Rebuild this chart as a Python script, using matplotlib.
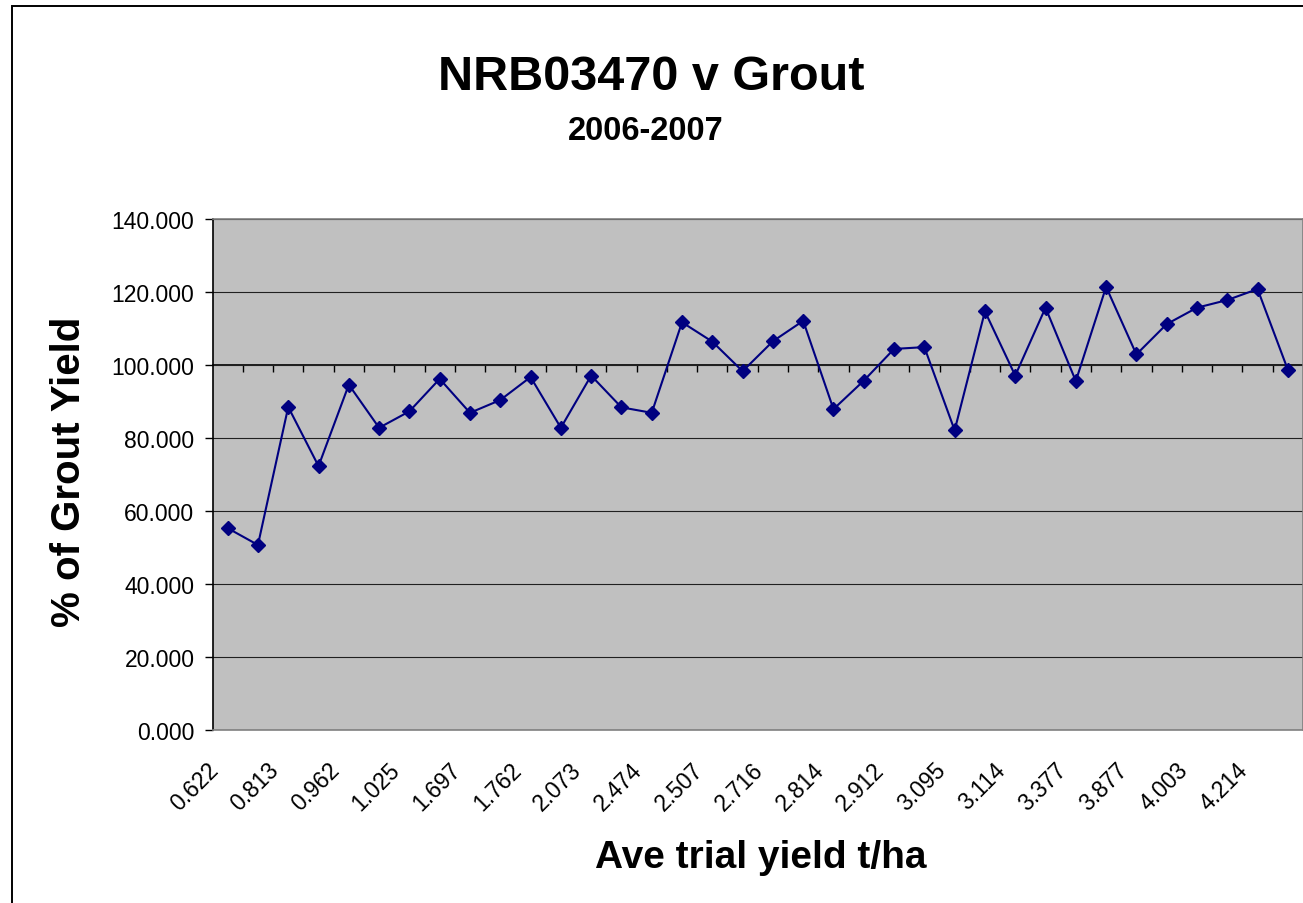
import numpy as np
import matplotlib
matplotlib.use("Agg")
import matplotlib.pyplot as plt
import matplotlib.transforms as mtransforms
from matplotlib.patches import Rectangle

plt.rcParams['font.family'] = ['Liberation Sans', 'DejaVu Sans']

# % of Grout yield for each trial (36 trials, ordered by average trial yield)
pct_grout = [55.3, 50.7, 88.5, 72.3, 94.6, 82.8, 87.3, 96.2, 86.9, 90.4,
             96.7, 82.8, 97.1, 88.4, 86.9, 111.7, 106.4, 98.3, 106.5, 112.1,
             87.9, 95.7, 104.4, 104.9, 82.1, 114.7, 97.1, 115.7, 95.6, 121.4,
             102.9, 111.2, 115.7, 117.8, 120.8, 98.7]
# category labels shown on the axis (every second trial)
yield_labels = ['0.622', '0.813', '0.962', '1.025', '1.697', '1.762', '2.073',
                '2.474', '2.507', '2.716', '2.814', '2.912', '3.095', '3.114',
                '3.377', '3.877', '4.003', '4.214']
y_ticks = [0, 20, 40, 60, 80, 100, 120, 140]

W, H = 1303, 904
fig = plt.figure(figsize=(W / 100, H / 100), dpi=100)
fig.patch.set_facecolor('white')

# chart border (only left & top are inside the image)
fig.patches.append(Rectangle((12 / W, -0.2), 2.0, 1 - 7 / H + 0.2,
                             transform=fig.transFigure, fill=False,
                             edgecolor='black', lw=1.4, clip_on=False))

left, right, top, bottom = 212.5, 1303, 220, 731
ax = fig.add_axes([left / W, 1 - bottom / H, (right - left) / W, (bottom - top) / H])
ax.set_facecolor('#C0C0C0')

x = np.arange(len(pct_grout))
ax.plot(x, pct_grout, color='#000080', lw=1.5, marker='D', markersize=7,
        markerfacecolor='#000080', markeredgecolor='#000080', zorder=3)

ax.set_xlim(-0.5, len(pct_grout) - 0.5)
ax.set_ylim(0, 140)
ax.set_yticks(y_ticks)
ax.set_yticklabels([f'{v:.3f}' for v in y_ticks], fontsize=16.5)
ax.yaxis.grid(True, color='#202020', lw=0.8)
ax.set_axisbelow(True)
ax.tick_params(axis='y', direction='out', length=6, width=1, pad=7, color='black')

for s in ['top', 'bottom', 'right']:
    ax.spines[s].set_color('#808080')
    ax.spines[s].set_linewidth(1.2)
ax.spines['left'].set_color('black')
ax.spines['left'].set_linewidth(1.2)

# category labels at the bottom
ax.set_xticks(x[::2])
ax.set_xticklabels(yield_labels, fontsize=16.5, rotation=45, ha='right',
                   va='center', rotation_mode='anchor')
ax.tick_params(axis='x', length=0, pad=26)
offset = mtransforms.ScaledTranslation(-13 / 100, 0, fig.dpi_scale_trans)
for lab in ax.get_xticklabels():
    lab.set_transform(lab.get_transform() + offset)

# category axis line crossing at 100
sec = ax.secondary_xaxis(100, transform=ax.transData)
sec.set_xticks(np.arange(0.5, len(pct_grout) - 1, 1))
sec.tick_params(direction='in', length=5, width=1, color='black',
                labeltop=False, labelbottom=False)
for s in sec.spines.values():
    s.set_color('black')
    s.set_linewidth(1.2)

fig.text(651.5 / W, 1 - 90 / H, 'NRB03470 v Grout', ha='center', va='baseline',
         fontsize=35, fontweight='bold')
fig.text(646 / W, 1 - 140 / H, '2006-2007', ha='center', va='baseline',
         fontsize=23.5, fontweight='bold')
fig.text(760.5 / W, 1 - 868 / H, 'Ave trial yield t/ha', ha='center', va='baseline',
         fontsize=28, fontweight='bold')
fig.text(80 / W, 1 - 472 / H, '% of Grout Yield', ha='center', va='baseline',
         rotation=90, rotation_mode='anchor', fontsize=29, fontweight='bold')

fig.savefig('out.png', dpi=100)
